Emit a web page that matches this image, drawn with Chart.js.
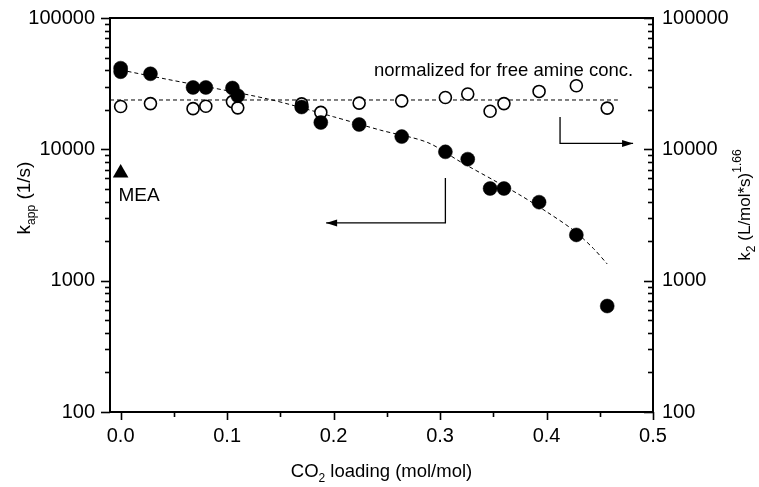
<!DOCTYPE html>
<html><head><meta charset="utf-8">
<script src="https://cdn.jsdelivr.net/npm/chart.js@4/dist/chart.umd.min.js"></script>
<style>html,body{margin:0;padding:0;background:#fff}canvas{display:block}</style>
</head><body>
<canvas id="c" width="759" height="487"></canvas>
<script>
// ---- data ----
const loadingFilled = [0.0, 0.0, 0.028, 0.068, 0.080, 0.105, 0.110, 0.170, 0.188, 0.224, 0.264, 0.305, 0.326, 0.347, 0.360, 0.393, 0.428, 0.457];
const kApp          = [41500, 39000, 37600, 29600, 29600, 29300, 25600, 21000, 16000, 15450, 12500, 9570, 8420, 5030, 5030, 3960, 2230, 641];
const loadingOpen   = [0.0, 0.028, 0.068, 0.080, 0.105, 0.110, 0.170, 0.188, 0.224, 0.264, 0.305, 0.326, 0.347, 0.360, 0.393, 0.428, 0.457];
const k2            = [21200, 22300, 20400, 21300, 23100, 20700, 22200, 19100, 22500, 23400, 24800, 26400, 19500, 22300, 27600, 30500, 20600];
const meaLoading    = [0.0];
const meaKapp       = [6600];
const fitLoading    = [0.0, 0.044, 0.138, 0.200, 0.244, 0.288, 0.319, 0.350, 0.375, 0.400, 0.425, 0.444, 0.457];
const fitKapp       = [40200, 34100, 24200, 17700, 14000, 11300, 8050, 5840, 4490, 3350, 2430, 1760, 1340];
const flatLoading   = [-0.01, 0.467];
const flatK2        = [23750, 23750];
const xTickValues   = [0.0, 0.1, 0.2, 0.3, 0.4, 0.5];
const yTickValues   = [100, 1000, 10000, 100000];

// annotation anchors (data units)
const noteText = 'normalized for free amine conc.';
const noteAt = {x: 0.238, y: 36100};
const meaText = 'MEA';
const meaAt = {x: -0.002, y: 4050};
const arrowLeft  = [[0.305, 6050], [0.305, 2750], [0.193, 2750]];
const arrowRight = [[0.4127, 17600], [0.4127, 11100], [0.4813, 11100]];

const FONT = '"Liberation Sans", Arial, Helvetica, sans-serif';
Chart.defaults.font.family = FONT;
Chart.defaults.color = '#000';

const pts = (xs, ys) => xs.map((x, i) => ({x, y: ys[i]}));

function richText(ctx, parts, cx, baseY, rot) {
  ctx.save();
  ctx.translate(cx, baseY);
  if (rot) ctx.rotate(rot);
  let total = 0;
  parts.forEach(p => { ctx.font = p.size + 'px ' + FONT; total += ctx.measureText(p.t).width; });
  let xx = -total / 2;
  ctx.textBaseline = 'alphabetic';
  ctx.textAlign = 'left';
  ctx.fillStyle = '#000';
  parts.forEach(p => {
    ctx.font = p.size + 'px ' + FONT;
    ctx.fillText(p.t, xx, p.dy || 0);
    xx += ctx.measureText(p.t).width;
  });
  ctx.restore();
}

function arrow(ctx, xs, ys, path) {
  const p = path.map(([vx, vy]) => [xs.getPixelForValue(vx), ys.getPixelForValue(vy)]);
  ctx.beginPath();
  ctx.moveTo(p[0][0], p[0][1]);
  for (let i = 1; i < p.length; i++) ctx.lineTo(p[i][0], p[i][1]);
  ctx.stroke();
  const [x1, y1] = p[p.length - 2], [x2, y2] = p[p.length - 1];
  const ang = Math.atan2(y2 - y1, x2 - x1);
  const L = 11, W = 3.5;
  ctx.beginPath();
  ctx.moveTo(x2, y2);
  ctx.lineTo(x2 - L * Math.cos(ang) + W * Math.sin(ang), y2 - L * Math.sin(ang) - W * Math.cos(ang));
  ctx.lineTo(x2 - L * Math.cos(ang) - W * Math.sin(ang), y2 - L * Math.sin(ang) + W * Math.cos(ang));
  ctx.closePath();
  ctx.fill();
}

const decorPlugin = {
  id: 'decor',
  afterDatasetsDraw(chart) {
    const {ctx, chartArea: a, scales} = chart;
    const {x, y, y2} = scales;
    ctx.save();
    ctx.strokeStyle = '#000';
    ctx.fillStyle = '#000';
    // frame
    ctx.lineWidth = 2;
    ctx.lineCap = 'square';
    ctx.beginPath();
    ctx.moveTo(a.left, a.top); ctx.lineTo(a.right, a.top);
    ctx.lineTo(a.right, a.bottom); ctx.lineTo(a.left, a.bottom); ctx.closePath();
    ctx.stroke();
    ctx.lineCap = 'butt';
    ctx.lineWidth = 1.6;
    // log ticks
    const logTicks = [];
    for (let d = 100; d < 100000; d *= 10) for (let m = 1; m <= 9; m++) logTicks.push({v: m * d, major: m === 1});
    logTicks.push({v: 100000, major: true});
    logTicks.forEach(t => {
      const len = t.major ? 9 : 5;
      const py = Math.round(y.getPixelForValue(t.v)) + 0.5;
      ctx.beginPath(); ctx.moveTo(a.left - len, py); ctx.lineTo(a.left, py); ctx.stroke();
      const py2 = Math.round(y2.getPixelForValue(t.v)) + 0.5;
      ctx.beginPath(); ctx.moveTo(a.right - len, py2); ctx.lineTo(a.right, py2); ctx.stroke();
    });
    // x ticks
    xTickValues.forEach((v, i) => {
      const px = Math.round(x.getPixelForValue(v)) + 0.5;
      ctx.beginPath(); ctx.moveTo(px, a.bottom); ctx.lineTo(px, a.bottom + 8); ctx.stroke();
      if (i < xTickValues.length - 1) {
        const mid = (v + xTickValues[i + 1]) / 2;
        const pm = Math.round(x.getPixelForValue(mid)) + 0.5;
        ctx.beginPath(); ctx.moveTo(pm, a.bottom); ctx.lineTo(pm, a.bottom + 5); ctx.stroke();
      }
    });
    // arrows
    ctx.lineWidth = 1.3;
    arrow(ctx, x, y, arrowLeft);
    arrow(ctx, x, y2, arrowRight);
    // annotation text
    ctx.font = '18.5px ' + FONT;
    ctx.textAlign = 'left';
    ctx.textBaseline = 'alphabetic';
    ctx.fillText(noteText, x.getPixelForValue(noteAt.x), y2.getPixelForValue(noteAt.y));
    ctx.font = '19px ' + FONT;
    ctx.fillText(meaText, x.getPixelForValue(meaAt.x), y.getPixelForValue(meaAt.y));
    ctx.restore();
    // axis titles
    const midY = (a.top + a.bottom) / 2;
    richText(ctx, [{t: 'k', size: 19}, {t: 'app', size: 12, dy: 5}, {t: ' (1/s)', size: 19}], 30, midY - 17, -Math.PI / 2);
    richText(ctx, [{t: 'k', size: 17}, {t: '2', size: 12, dy: 5}, {t: ' (L/mol*s)', size: 17}, {t: '1.66', size: 12, dy: -9}], 750, midY - 10, -Math.PI / 2);
    richText(ctx, [{t: 'CO', size: 18.5}, {t: '2', size: 12, dy: 5}, {t: ' loading (mol/mol)', size: 18.5}], (a.left + a.right) / 2, 477, 0);
  }
};

const zeroPad = s => { s.paddingTop = 0; s.paddingBottom = 0; s.paddingLeft = 0; s.paddingRight = 0; };

new Chart(document.getElementById('c'), {
  type: 'scatter',
  data: {
    datasets: [
      {label: 'MEA', data: pts(meaLoading, meaKapp), yAxisID: 'y', pointStyle: 'triangle', pointRadius: 9, pointHoverRadius: 9, backgroundColor: '#000', borderColor: '#000', borderWidth: 0},
      {label: 'k_app', data: pts(loadingFilled, kApp), yAxisID: 'y', pointRadius: 7, pointHoverRadius: 7, backgroundColor: '#000', borderColor: '#000', borderWidth: 0.5},
      {label: 'k2', data: pts(loadingOpen, k2), yAxisID: 'y2', pointRadius: 6, pointHoverRadius: 6, backgroundColor: '#fff', borderColor: '#000', borderWidth: 1.6},
      {label: 'fit k_app', data: pts(fitLoading, fitKapp), yAxisID: 'y', showLine: true, tension: 0.3, borderDash: [4, 3], borderWidth: 1, borderColor: '#000', pointRadius: 0, pointHoverRadius: 0},
      {label: 'fit k2', data: pts(flatLoading, flatK2), yAxisID: 'y2', showLine: true, borderDash: [4, 3], borderWidth: 1, borderColor: '#000', pointRadius: 0, pointHoverRadius: 0}
    ]
  },
  options: {
    responsive: false,
    animation: false,
    devicePixelRatio: 1,
    layout: {padding: {top: 18, left: 0, right: 0, bottom: 0}},
    plugins: {legend: {display: false}, tooltip: {enabled: false}},
    events: [],
    scales: {
      x: {
        type: 'linear', position: 'bottom', min: -0.01, max: 0.5,
        grid: {display: false, drawTicks: false}, border: {display: false},
        afterBuildTicks: s => { s.ticks = xTickValues.map(v => ({value: v})); },
        afterFit: s => { s.height = 75; zeroPad(s); },
        ticks: {autoSkip: false, maxRotation: 0, padding: 12, font: {size: 20}, color: '#000', callback: v => v.toFixed(1)}
      },
      y: {
        type: 'logarithmic', position: 'left', min: 100, max: 100000,
        grid: {display: false, drawTicks: false}, border: {display: false},
        afterBuildTicks: s => { s.ticks = yTickValues.map(v => ({value: v})); },
        afterFit: s => { s.width = 110; zeroPad(s); },
        ticks: {autoSkip: false, padding: 15, font: {size: 20}, color: '#000', callback: v => String(v)}
      },
      y2: {
        type: 'logarithmic', position: 'right', min: 100, max: 100000,
        grid: {display: false, drawTicks: false}, border: {display: false},
        afterBuildTicks: s => { s.ticks = yTickValues.map(v => ({value: v})); },
        afterFit: s => { s.width = 106; zeroPad(s); },
        ticks: {autoSkip: false, padding: 9, font: {size: 20}, color: '#000', callback: v => String(v)}
      }
    }
  },
  plugins: [decorPlugin]
});
</script>
</body></html>
